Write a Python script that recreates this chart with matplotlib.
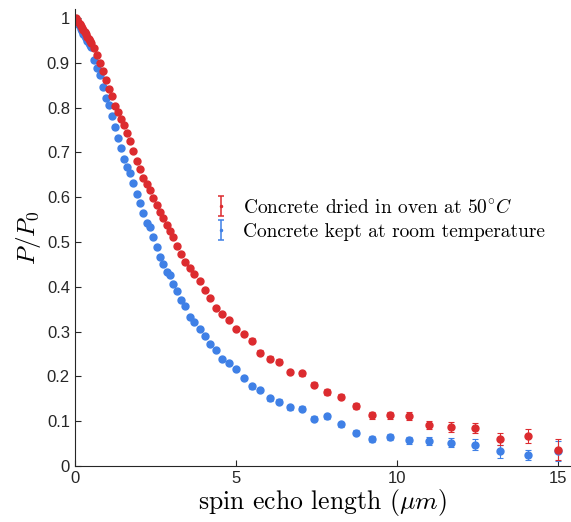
import matplotlib
matplotlib.use("Agg")
import matplotlib.pyplot as plt
from matplotlib.legend_handler import HandlerErrorbar

plt.rcParams['mathtext.fontset'] = 'cm'
plt.rcParams['font.family'] = ['Liberation Sans', 'DejaVu Sans']

# spin echo length (um), shared by both samples
x = [0.03, 0.07, 0.11, 0.15, 0.19, 0.23, 0.27, 0.31, 0.35, 0.39, 0.43, 0.47, 0.51,
     0.60, 0.69, 0.79, 0.88, 0.97, 1.07, 1.16, 1.25, 1.34, 1.44, 1.53, 1.62, 1.72,
     1.81, 1.92, 2.03, 2.13, 2.24, 2.34, 2.44, 2.55, 2.65, 2.75, 2.86, 2.96, 3.06,
     3.18, 3.31, 3.43, 3.58, 3.71, 3.88, 4.04, 4.21, 4.40, 4.58, 4.80, 5.02, 5.25,
     5.51, 5.75, 6.06, 6.35, 6.70, 7.05, 7.43, 7.84, 8.28, 8.75, 9.24, 9.79, 10.38,
     11.01, 11.69, 12.43, 13.22, 14.08, 15.00]

# dried in oven at 50 C
p_dried = [1.000, 0.995, 0.990, 0.986, 0.982, 0.977, 0.972, 0.968, 0.963, 0.958, 0.953, 0.948, 0.943,
           0.933, 0.916, 0.900, 0.882, 0.861, 0.842, 0.825, 0.803, 0.789, 0.775, 0.760, 0.743, 0.725,
           0.703, 0.680, 0.663, 0.643, 0.629, 0.615, 0.598, 0.583, 0.566, 0.553, 0.539, 0.524, 0.512,
           0.491, 0.473, 0.456, 0.442, 0.429, 0.413, 0.392, 0.375, 0.352, 0.340, 0.327, 0.307, 0.295,
           0.280, 0.253, 0.240, 0.233, 0.210, 0.207, 0.182, 0.165, 0.155, 0.134, 0.113, 0.113, 0.111,
           0.092, 0.088, 0.085, 0.061, 0.067, 0.037]
err_dried = [0.002] * 13 + [0.003] * 26 + [0.004] * 13 + \
            [0.005, 0.005, 0.005, 0.005, 0.005, 0.006, 0.006, 0.006, 0.006, 0.006, 0.007, 0.007,
             0.009, 0.0097, 0.011, 0.012, 0.014, 0.016, 0.024]

# kept at room temperature
p_room = [0.998, 0.992, 0.987, 0.981, 0.976, 0.970, 0.965, 0.960, 0.954, 0.949, 0.944, 0.940, 0.936,
          0.905, 0.888, 0.872, 0.845, 0.822, 0.806, 0.781, 0.756, 0.733, 0.710, 0.686, 0.667, 0.654,
          0.631, 0.606, 0.587, 0.565, 0.542, 0.533, 0.512, 0.488, 0.467, 0.452, 0.434, 0.427, 0.407,
          0.390, 0.371, 0.358, 0.332, 0.321, 0.306, 0.291, 0.273, 0.260, 0.238, 0.230, 0.216, 0.196,
          0.178, 0.170, 0.151, 0.144, 0.131, 0.128, 0.106, 0.111, 0.093, 0.075, 0.060, 0.065, 0.058,
          0.057, 0.052, 0.048, 0.033, 0.024, 0.034]
err_room = [0.002] * 13 + [0.003] * 26 + [0.004] * 13 + \
           [0.005, 0.005, 0.005, 0.005, 0.005, 0.006, 0.006, 0.006, 0.006, 0.006, 0.007, 0.007,
            0.008, 0.009, 0.010, 0.013, 0.014, 0.011, 0.022]

red = '#dc2b2f'
blue = '#3f80e6'

fig = plt.figure(figsize=(5.71, 5.22), dpi=100)
ax = fig.add_axes([0.131, 0.107, 0.867, 0.876])

ax.errorbar(x, p_room, yerr=err_room, fmt='o', color=blue, ms=5, capsize=2,
            elinewidth=0.8, capthick=0.8)
ax.errorbar(x, p_dried, yerr=err_dried, fmt='o', color=red, ms=5, capsize=2,
            elinewidth=0.8, capthick=0.8)

# legend handles: small I-shaped error bars (nan data, so nothing drawn in the axes)
nan = float('nan')
h1 = ax.errorbar([nan], [nan], yerr=[0.01], fmt='o', color=red, ms=1.5, capsize=2.5,
                 elinewidth=1.1, capthick=1.1)
h2 = ax.errorbar([nan], [nan], yerr=[0.01], fmt='o', color=blue, ms=1.5, capsize=2.5,
                 elinewidth=1.1, capthick=1.1)
ax.legend([h1, h2], [r'Concrete dried in oven at $50^{\circ}C$',
                     'Concrete kept at room temperature'],
          loc='center left', bbox_to_anchor=(0.25, 0.54), frameon=False,
          prop={'family': 'cmr10', 'size': 14}, handlelength=0.5,
          handletextpad=0.9, labelspacing=0.3,
          handler_map={type(h1): HandlerErrorbar(yerr_size=0.5)})

ax.set_xlim(0, 15.38)
ax.set_ylim(0, 1.02)
ax.set_xticks([0, 5, 10, 15])
ax.set_yticks([0, 0.1, 0.2, 0.3, 0.4, 0.5, 0.6, 0.7, 0.8, 0.9, 1])
ax.set_yticklabels(['0', '0.1', '0.2', '0.3', '0.4', '0.5', '0.6', '0.7', '0.8', '0.9', '1'])
ax.tick_params(direction='in', length=4, labelsize=12, color='#262626', labelcolor='#262626')
for s in ['top', 'right']:
    ax.spines[s].set_visible(False)
for s in ['left', 'bottom']:
    ax.spines[s].set_color('#262626')

ax.set_xlabel(r'spin echo length ($\mu m$)', family='cmr10', fontsize=18.5, labelpad=1)
ax.set_ylabel(r'$P/P_0$', fontsize=18, labelpad=3)

fig.savefig('out.png', dpi=100)
